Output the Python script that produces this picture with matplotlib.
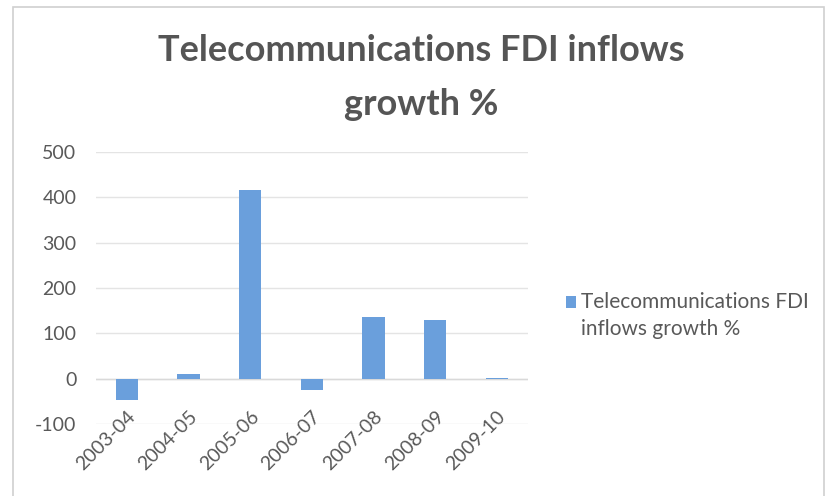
import matplotlib
matplotlib.use("Agg")
import matplotlib.pyplot as plt
from matplotlib.patches import Rectangle

years = ["2003-04", "2004-05", "2005-06", "2006-07", "2007-08", "2008-09", "2009-10"]
growth = [-47, 10, 416, -26, 137, 130, 2]
series_name = "Telecommunications FDI\ninflows growth %"

plt.rcParams["font.family"] = ["Lato", "DejaVu Sans"]
plt.rcParams["axes.unicode_minus"] = False

fig = plt.figure(figsize=(8.27, 4.96), dpi=100)
fig.patches.append(Rectangle((0.016, -0.01), 0.98, 0.995, transform=fig.transFigure,
                             fill=False, edgecolor="#d0d0d0", linewidth=1.2))

ax = fig.add_axes([0.116, 0.145, 0.522, 0.549])
x = range(len(years))
ax.bar(x, growth, width=0.36, color="#6a9fdc", label=series_name, zorder=3)

ax.set_ylim(-100, 500)
ax.set_yticks(range(-100, 501, 100))
ax.set_xlim(-0.5, len(years) - 0.5)
ax.set_xticks(list(x))
ax.set_xticklabels(years, rotation=45, ha="right", rotation_mode="anchor")
ax.grid(axis="y", color="#e4e4e4", linewidth=1, zorder=0)
ax.axhline(0, color="#d9d9d9", linewidth=1, zorder=2)
for s in ax.spines.values():
    s.set_visible(False)
ax.tick_params(axis="both", length=0, labelsize=14, colors="#595959")
ax.tick_params(axis="y", pad=14)
# category labels sit just under the zero line, inside the lower band
ax.tick_params(axis="x", pad=-12)

fig.suptitle("Telecommunications FDI inflows\ngrowth %", x=0.509, y=0.932,
             fontsize=26, fontweight="bold", color="#555555", linespacing=1.78)

leg_size = 15
leg = ax.legend(loc="center left", bbox_to_anchor=(1.07, 0.40), frameon=False,
                fontsize=leg_size, labelcolor="#595959", handlelength=0.48,
                handleheight=0.48, handletextpad=0.25, borderaxespad=0)
leg.get_texts()[0].set_linespacing(1.45)
# put the colour key beside the first line of the label
key = leg.legend_handles[0]
key.set_y(key.get_y() + 0.65 * leg_size)

fig.savefig("out.png", dpi=100)
